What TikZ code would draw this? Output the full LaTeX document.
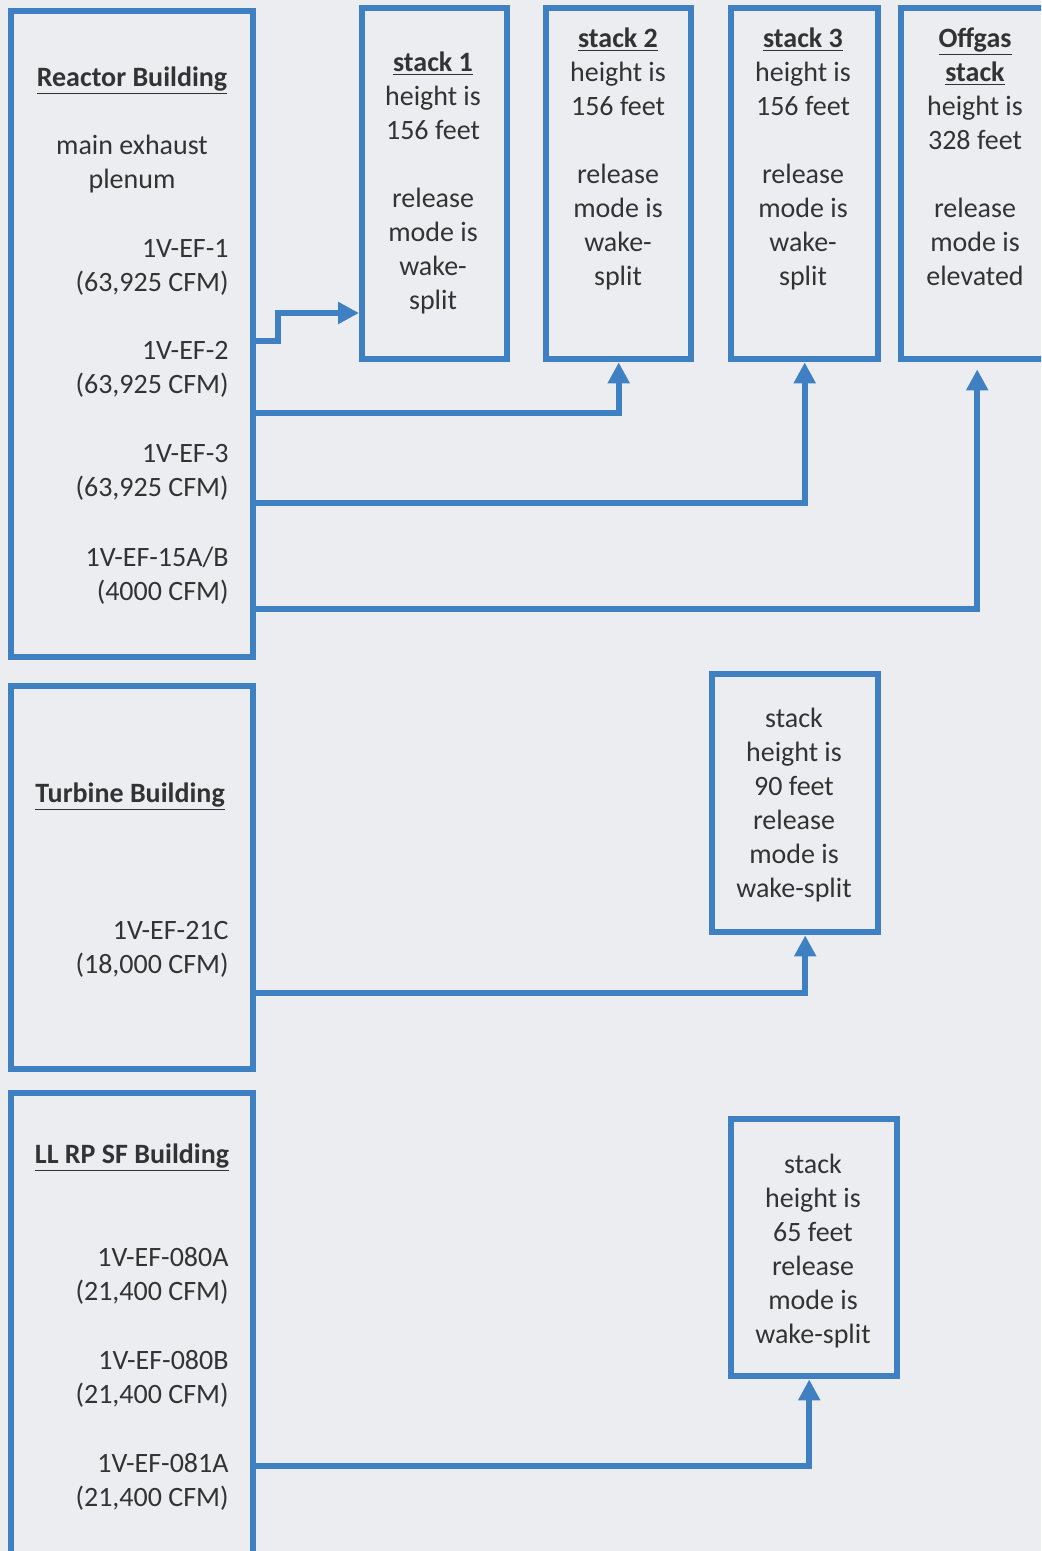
\documentclass[tikz,border=0pt]{standalone}
\usepackage{fontspec}
\setmainfont{Carlito}
\usepackage{xcolor}
\usetikzlibrary{arrows.meta,positioning,calc}
\definecolor{ductblue}{HTML}{3E80C2}
\definecolor{paper}{HTML}{ECEDF1}
\definecolor{ink}{HTML}{333333}

\begin{document}
\begin{tikzpicture}[x=0.5pt, y=-0.5pt, font=\fontsize{14}{17}\selectfont, text=ink, >={Triangle[length=10.5pt,width=10.5pt]}]
\tikzstyle{box}=[draw=ductblue, line width=3.2pt, inner sep=0pt, anchor=north west]
\tikzstyle{txt}=[inner sep=0pt, align=center, anchor=north]
\tikzstyle{fan}=[inner sep=0pt, align=right, anchor=north east]
\tikzstyle{duct}=[draw=ductblue, line width=3.2pt, ->]
\clip (0,0) rectangle (1041,1551);
\fill[paper] (0,0) rectangle (1041,1551);
% buildings
\node[box, minimum width=121pt, minimum height=323pt] (rb) at (8,8) {};
\node[box, minimum width=121pt, minimum height=191.5pt] (tb) at (8,683) {};
\node[box, minimum width=121pt, minimum height=240pt] (lb) at (8,1090) {};
% stacks
\node[box, minimum width=72.5pt, minimum height=175.5pt] (s1) at (359,5) {};
\node[box, minimum width=72.5pt, minimum height=175.5pt] (s2) at (543,5) {};
\node[box, minimum width=73.5pt, minimum height=175.5pt] (s3) at (728,5) {};
\node[box, minimum width=76pt, minimum height=175.5pt] (og) at (898,5) {};
\node[box, minimum width=83pt, minimum height=129pt] (ts) at (709,671) {};
\node[box, minimum width=83pt, minimum height=128.5pt] (ls) at (728,1116) {};
% building texts
\node[txt] (rbT) at (132,66) {\underline{\textbf{Reactor Building}}};
\node[txt] (rbM) at (132,135) {main exhaust\\plenum};
\node[fan] (f1) at (229,239) {1V-EF-1\\(63,925 CFM)};
\node[fan] (f2) at (229,341) {1V-EF-2\\(63,925 CFM)};
\node[fan] (f3) at (229,444) {1V-EF-3\\(63,925 CFM)};
\node[fan] (f4) at (229,547) {1V-EF-15A/B\\(4000 CFM)};
\node[txt] (tbT) at (130,782) {\underline{\textbf{Turbine Building}}};
\node[fan] (f5) at (229,921) {1V-EF-21C\\(18,000 CFM)};
\node[txt] (lbT) at (132,1143) {\underline{\textbf{LL RP SF Building}}};
\node[fan] (f6) at (229,1247) {1V-EF-080A\\(21,400 CFM)};
\node[fan] (f7) at (229,1350) {1V-EF-080B\\(21,400 CFM)};
\node[fan] (f8) at (229,1453) {1V-EF-081A\\(21,400 CFM)};
% stack texts
\node[txt] (s1T) at (433,51) {\underline{\textbf{stack 1}}\\height is\\156 feet\\[17pt]release\\mode is\\wake-\\split};
\node[txt] (s2T) at (618,27) {\underline{\textbf{stack 2}}\\height is\\156 feet\\[17pt]release\\mode is\\wake-\\split};
\node[txt] (s3T) at (803,27) {\underline{\textbf{stack 3}}\\height is\\156 feet\\[17pt]release\\mode is\\wake-\\split};
\node[txt] (ogT) at (975,27) {\underline{\textbf{Offgas}}\\\underline{\textbf{stack}}\\height is\\328 feet\\[17pt]release\\mode is\\elevated};
\node[txt] (tsT) at (794,708) {stack\\height is\\90 feet\\release\\mode is\\wake-split};
\node[txt] (lsT) at (813,1154) {stack\\height is\\65 feet\\release\\mode is\\wake-split};
% ducts
\coordinate (e1) at (256,341);
\coordinate (e2) at (256,413);
\coordinate (e3) at (256,503);
\coordinate (e4) at (256,609);
\coordinate (e5) at (256,993);
\coordinate (e6) at (256,1466);
\draw[duct] (e1) -- ++(22,0) |- (s1.west |- 0,313);
\draw[duct] (e2) -| (s2.south);
\draw[duct] (e3) -| (s3.south);
\draw[duct] (e4) -| ([yshift=-3.5pt]og.south);
\draw[duct] (e5) -| ([xshift=5pt]ts.south);
\draw[duct] (e6) -| ([xshift=-2.5pt]ls.south);
\end{tikzpicture}
\end{document}
